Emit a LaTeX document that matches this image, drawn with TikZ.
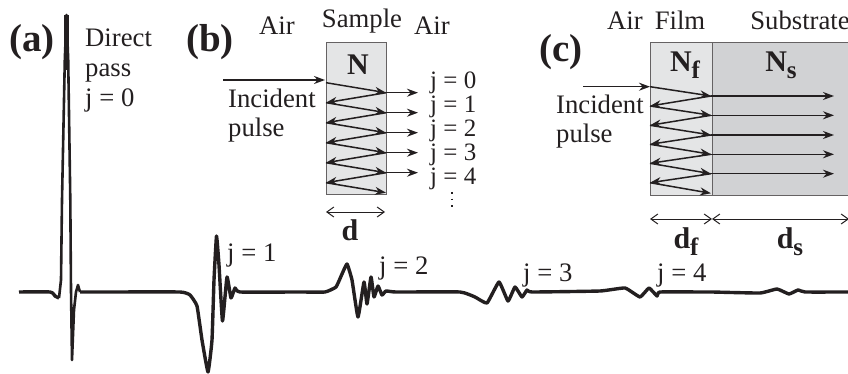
\documentclass[tikz,border=0pt]{standalone}
\usepackage{fontspec}
\setmainfont{Liberation Serif}
\usetikzlibrary{arrows.meta}
\definecolor{inkblack}{HTML}{231F20}
\definecolor{samplegray}{HTML}{E4E5E6}
\definecolor{substrategray}{HTML}{D1D2D4}
\newcommand{\boldsub}[2]{\textbf{#1\raisebox{-7pt}{\fontsize{25}{25}\selectfont #2}}}
\tikzset{
    lbl/.style={inner sep=0pt, anchor=base, text=inkblack, font=\fontsize{26.7}{27}\selectfont},
    lblleft/.style={lbl, anchor=base west},
    jlbl/.style={lblleft, font=\fontsize{25}{25}\selectfont},
    bigbold/.style={lbl, font=\fontsize{39}{39}\selectfont\bfseries},
    midbold/.style={lbl, font=\fontsize{30}{30}\selectfont\bfseries},
    slab/.style={draw=inkblack!70, line width=1pt},
    ray/.style={draw=inkblack, line width=1.5pt, -{Stealth[length=11pt,width=8pt]}},
    span/.style={draw=inkblack, line width=1pt, {Straight Barb[length=7pt,width=10pt]}-{Straight Barb[length=7pt,width=10pt]}},
    wave/.style={draw=inkblack, line width=3.4pt, line join=round},
    spike/.style={wave, line width=2.6pt},
    dots/.style={draw=inkblack, line width=1.6pt, dash pattern=on 1.6pt off 5pt}
}
\begin{document}
\begin{tikzpicture}[x=1pt, y=-1pt]
    \useasboundingbox (0, 0) rectangle (848, 374);

    % (a) waveform
    \draw [wave] plot [smooth, tension=0.35] coordinates {(19, 292) (50, 292) (55, 296) (59, 298)};
    \draw [spike] (59, 298) -- (61, 280) -- (62, 200) -- (64.8, 60) -- (66.5, 15) -- (68.2, 60) -- (70.3, 200) -- (71, 290) -- (72, 360) -- (74, 310) -- (76, 292) -- (78, 285) -- (80, 292);
    \draw [wave, line width=4.4pt] (66.6, 15) -- (66.6, 70);
    \draw [wave] plot [smooth, tension=0.22] coordinates {(80, 292) (100, 292) (180, 292) (190, 295) (197, 306) (202, 340) (208, 372) (212, 340) (214, 280) (216.5, 236) (219, 265) (222.5, 321) (227, 277) (231, 298) (235, 288) (240, 292) (300, 292) (325, 292) (336, 287) (342, 274) (347, 264) (352, 280) (358, 317) (364, 282) (367, 304) (371, 277) (374, 297) (378, 286) (382, 295) (386, 291) (396, 292) (460, 292) (475, 297) (487, 303) (499, 282) (508, 301) (515, 287) (522, 297) (527, 290) (532, 292) (600, 291) (625, 288) (640, 297) (649, 288) (657, 296) (660, 292) (705, 292) (712, 292) (760, 293) (777, 289) (789, 294) (798, 290) (805, 292) (848, 292)};

    \node (pa) [bigbold] at (32, 52) {(a)};
    \node (direct) [lblleft] at (85, 47) {Direct};
    \node (pass) [lblleft] at (85, 77) {pass};
    \node (wj0) [lblleft] at (85, 107) {j = 0};
    \node (wj1) [lblleft] at (227, 261) {j = 1};
    \node (wj2) [lblleft] at (379, 274) {j = 2};
    \node (wj3) [lblleft] at (523, 281) {j = 3};
    \node (wj4) [lblleft] at (657, 281) {j = 4};

    % (b) free standing sample
    \draw [slab, fill=samplegray] (326, 43) rectangle (386, 195);
    \node (pb) [bigbold] at (210, 52) {(b)};
    \node (airb1) [lbl] at (277, 35) {Air};
    \node (sample) [lbl] at (362, 28) {Sample};
    \node (airb2) [lbl] at (432, 35) {Air};
    \node (nb) [midbold] at (358, 75) {N};
    \node (incb) [lblleft] at (228, 108) {Incident};
    \node (pulb) [lblleft] at (228, 137) {pulse};
    \node (db) [midbold] at (350, 240) {d};
    \node (bj0) [jlbl] at (430, 89) {j = 0};
    \node (bj1) [jlbl] at (430, 113) {j = 1};
    \node (bj2) [jlbl] at (430, 137) {j = 2};
    \node (bj3) [jlbl] at (430, 161) {j = 3};
    \node (bj4) [jlbl] at (430, 185) {j = 4};

    \coordinate (bin) at (223, 80);
    \coordinate (bL0) at (325, 80);
    \coordinate (bL1) at (326, 82.7);
    \coordinate (bL2) at (326, 102.7);
    \coordinate (bL3) at (326, 122.7);
    \coordinate (bL4) at (326, 142.7);
    \coordinate (bL5) at (326, 162.7);
    \coordinate (bL6) at (326, 182.7);
    \coordinate (bR1) at (386, 92.7);
    \coordinate (bR2) at (386, 112.7);
    \coordinate (bR3) at (386, 132.7);
    \coordinate (bR4) at (386, 152.7);
    \coordinate (bR5) at (386, 172.7);
    \coordinate (bR6) at (386, 192.7);
    \coordinate (bO1) at (418, 92.7);
    \coordinate (bO2) at (418, 112.7);
    \coordinate (bO3) at (418, 132.7);
    \coordinate (bO4) at (418, 152.7);
    \coordinate (bO5) at (418, 172.7);
    \coordinate (bdl) at (326, 212);
    \coordinate (bdr) at (385, 212);
    \coordinate (bdt) at (452, 192);
    \coordinate (bdb) at (452, 210);

    \draw [ray] (bin)--(bL0);
    \draw [ray] (bL1)--(bR1);
    \draw [ray] (bR1)--(bL2);
    \draw [ray] (bL2)--(bR2);
    \draw [ray] (bR2)--(bL3);
    \draw [ray] (bL3)--(bR3);
    \draw [ray] (bR3)--(bL4);
    \draw [ray] (bL4)--(bR4);
    \draw [ray] (bR4)--(bL5);
    \draw [ray] (bL5)--(bR5);
    \draw [ray] (bR5)--(bL6);
    \draw [ray] (bL6)--(bR6);
    \draw [ray] (bR1)--(bO1);
    \draw [ray] (bR2)--(bO2);
    \draw [ray] (bR3)--(bO3);
    \draw [ray] (bR4)--(bO4);
    \draw [ray] (bR5)--(bO5);
    \draw [span] (bdl)--(bdr);
    \draw [dots] (bdt)--(bdb);

    % (c) film on substrate
    \fill [samplegray] (650, 43) rectangle (712, 196);
    \fill [substrategray] (712, 43) rectangle (848, 196);
    \draw [slab] (848, 43) -- (650, 43) -- (650, 196) -- (848, 196);
    \draw [slab] (712, 43) -- (712, 196);
    \node (pc) [bigbold] at (561, 62) {(c)};
    \node (airc) [lbl] at (625, 30) {Air};
    \node (film) [lbl] at (680, 30) {Film};
    \node (subs) [lbl] at (800, 30) {Substrate};
    \node (nf) [midbold] at (685, 72) {\boldsub{N}{f}};
    \node (ns) [midbold] at (781, 72) {\boldsub{N}{s}};
    \node (incc) [lblleft] at (556, 114) {Incident};
    \node (pulc) [lblleft] at (556, 143) {pulse};
    \node (df) [midbold] at (686, 248) {\boldsub{d}{f}};
    \node (ds) [midbold] at (790, 248) {\boldsub{d}{s}};

    \coordinate (cin) at (583, 86.7);
    \coordinate (cL0) at (650, 86.7);
    \coordinate (cL1) at (650, 86.7);
    \coordinate (cL2) at (650, 106);
    \coordinate (cL3) at (650, 125.3);
    \coordinate (cL4) at (650, 144.3);
    \coordinate (cL5) at (650, 163.3);
    \coordinate (cL6) at (650, 182.7);
    \coordinate (cR1) at (711, 96);
    \coordinate (cR2) at (711, 115.3);
    \coordinate (cR3) at (711, 135);
    \coordinate (cR4) at (711, 154.3);
    \coordinate (cR5) at (711, 173.7);
    \coordinate (cR6) at (711, 193.3);
    \coordinate (cO1) at (834, 96);
    \coordinate (cO2) at (834, 115.3);
    \coordinate (cO3) at (834, 135);
    \coordinate (cO4) at (834, 154.3);
    \coordinate (cO5) at (834, 173.7);
    \coordinate (cdl) at (650, 219);
    \coordinate (cdm) at (712, 219);
    \coordinate (cdr) at (849, 219);

    \draw [ray] (cin)--(cL0);
    \draw [ray] (cL1)--(cR1);
    \draw [ray] (cR1)--(cL2);
    \draw [ray] (cL2)--(cR2);
    \draw [ray] (cR2)--(cL3);
    \draw [ray] (cL3)--(cR3);
    \draw [ray] (cR3)--(cL4);
    \draw [ray] (cL4)--(cR4);
    \draw [ray] (cR4)--(cL5);
    \draw [ray] (cL5)--(cR5);
    \draw [ray] (cR5)--(cL6);
    \draw [ray] (cL6)--(cR6);
    \draw [ray] (cR1)--(cO1);
    \draw [ray] (cR2)--(cO2);
    \draw [ray] (cR3)--(cO3);
    \draw [ray] (cR4)--(cO4);
    \draw [ray] (cR5)--(cO5);
    \draw [span] (cdl)--(cdm);
    \draw [span] (cdm)--(cdr);
\end{tikzpicture}
\end{document}
